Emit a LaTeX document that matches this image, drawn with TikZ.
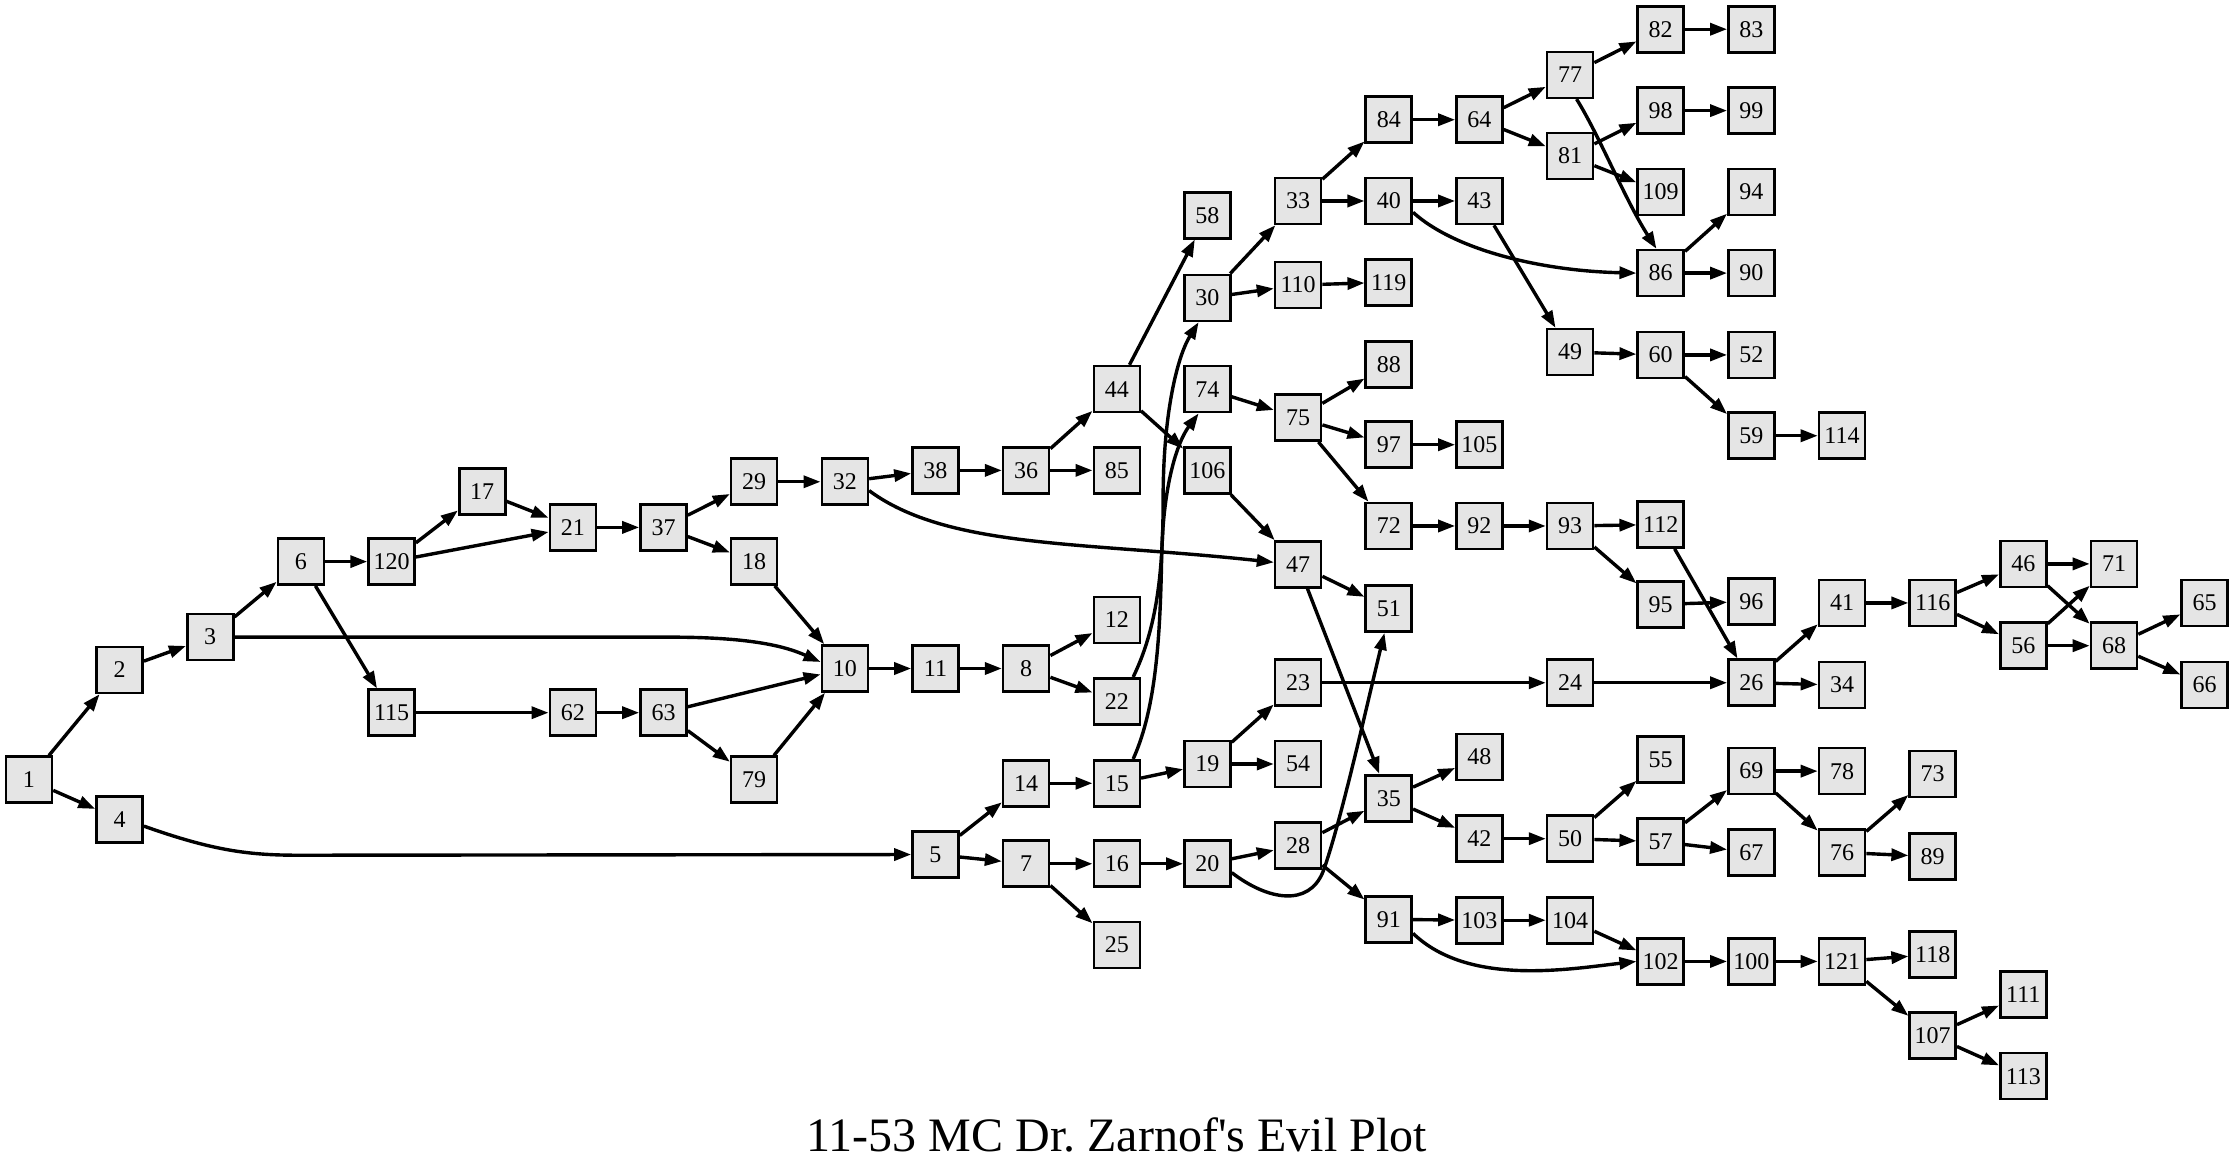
\documentclass[tikz,border=0pt]{standalone}
\usepackage{fontspec}
\setmainfont{Liberation Serif}
\newfontfamily\titlefont{Liberation Serif}[Ligatures=TeXOff]
\usetikzlibrary{arrows.meta}
\definecolor{boxfill}{HTML}{E5E5E5}
\begin{document}
\begin{tikzpicture}[x=1.4254pt,y=-1.4254pt,
  nd/.style={draw=black,fill=boxfill,line width=2.6pt,minimum size=46pt,inner sep=0pt,font=\fontsize{24}{24}\selectfont},
  e/.style={draw=black,line width=3.4pt,-{Triangle[length=17pt,width=12pt]}},
  ttl/.style={font=\titlefont\fontsize{48}{48}\selectfont,anchor=base}]
\useasboundingbox[fill=white] (0,0) rectangle (1568,817);
% columns
\def\ka{20.3}\def\kb{83.9}\def\kc{147.5}\def\kd{211.1}\def\ke{274.7}
\def\kf{338.3}\def\kg{401.9}\def\kh{465.5}\def\ki{529.1}\def\kj{592.7}
\def\kk{656.3}\def\kl{719.9}\def\km{783.5}\def\kn{847.1}\def\ko{910.7}
\def\kp{974.3}\def\kq{1037.9}\def\kr{1101.5}\def\ks{1165.1}\def\kt{1228.7}
\def\ku{1292.3}\def\kv{1355.9}\def\kw{1419.5}\def\kx{1483.1}\def\ky{1546.7}
% nodes
\node[nd] (n1) at (\ka,547) {1};
\node[nd] (n2) at (\kb,470) {2};
\node[nd] (n4) at (\kb,575) {4};
\node[nd] (n3) at (\kc,447) {3};
\node[nd] (n6) at (\kd,394) {6};
\node[nd] (n120) at (\ke,394) {120};
\node[nd] (n115) at (\ke,500) {115};
\node[nd] (n17) at (\kf,345) {17};
\node[nd] (n21) at (\kg,370) {21};
\node[nd] (n62) at (\kg,500) {62};
\node[nd] (n37) at (\kh,370) {37};
\node[nd] (n63) at (\kh,500) {63};
\node[nd] (n29) at (\ki,338) {29};
\node[nd] (n18) at (\ki,394) {18};
\node[nd] (n79) at (\ki,547) {79};
\node[nd] (n32) at (\kj,338) {32};
\node[nd] (n10) at (\kj,469) {10};
\node[nd] (n38) at (\kk,330) {38};
\node[nd] (n11) at (\kk,469) {11};
\node[nd] (n5) at (\kk,599.5) {5};
\node[nd] (n36) at (\kl,330) {36};
\node[nd] (n8) at (\kl,469) {8};
\node[nd] (n14) at (\kl,549.5) {14};
\node[nd] (n7) at (\kl,606) {7};
\node[nd] (n44) at (\km,273) {44};
\node[nd] (n85) at (\km,330) {85};
\node[nd] (n12) at (\km,435) {12};
\node[nd] (n22) at (\km,492) {22};
\node[nd] (n15) at (\km,549.5) {15};
\node[nd] (n16) at (\km,606) {16};
\node[nd] (n25) at (\km,663) {25};
\node[nd] (n58) at (\kn,151) {58};
\node[nd] (n30) at (\kn,209) {30};
\node[nd] (n74) at (\kn,273) {74};
\node[nd] (n106) at (\kn,330) {106};
\node[nd] (n19) at (\kn,536) {19};
\node[nd] (n20) at (\kn,606) {20};
\node[nd] (n33) at (\ko,141) {33};
\node[nd] (n110) at (\ko,200) {110};
\node[nd] (n75) at (\ko,293) {75};
\node[nd] (n47) at (\ko,396) {47};
\node[nd] (n23) at (\ko,479) {23};
\node[nd] (n54) at (\ko,536) {54};
\node[nd] (n28) at (\ko,593) {28};
\node[nd] (n84) at (\kp,84) {84};
\node[nd] (n40) at (\kp,141) {40};
\node[nd] (n119) at (\kp,198) {119};
\node[nd] (n88) at (\kp,255.6) {88};
\node[nd] (n97) at (\kp,312) {97};
\node[nd] (n72) at (\kp,369) {72};
\node[nd] (n51) at (\kp,427) {51};
\node[nd] (n35) at (\kp,560) {35};
\node[nd] (n91) at (\kp,645) {91};
\node[nd] (n64) at (\kq,84) {64};
\node[nd] (n43) at (\kq,141) {43};
\node[nd] (n105) at (\kq,312) {105};
\node[nd] (n92) at (\kq,369) {92};
\node[nd] (n48) at (\kq,531) {48};
\node[nd] (n42) at (\kq,588.4) {42};
\node[nd] (n103) at (\kq,645.6) {103};
\node[nd] (n77) at (\kr,52.5) {77};
\node[nd] (n81) at (\kr,109.5) {81};
\node[nd] (n49) at (\kr,247) {49};
\node[nd] (n93) at (\kr,369) {93};
\node[nd] (n24) at (\kr,479) {24};
\node[nd] (n50) at (\kr,588.4) {50};
\node[nd] (n104) at (\kr,645.6) {104};
\node[nd] (n82) at (\ks,20.5) {82};
\node[nd] (n98) at (\ks,77.6) {98};
\node[nd] (n109) at (\ks,134.7) {109};
\node[nd] (n86) at (\ks,191.6) {86};
\node[nd] (n60) at (\ks,249) {60};
\node[nd] (n112) at (\ks,368) {112};
\node[nd] (n95) at (\ks,424) {95};
\node[nd] (n55) at (\ks,533) {55};
\node[nd] (n57) at (\ks,590.5) {57};
\node[nd] (n102) at (\ks,674.5) {102};
\node[nd] (n83) at (\kt,20.5) {83};
\node[nd] (n99) at (\kt,77.6) {99};
\node[nd] (n94) at (\kt,134.7) {94};
\node[nd] (n90) at (\kt,191.6) {90};
\node[nd] (n52) at (\kt,249) {52};
\node[nd] (n59) at (\kt,305.7) {59};
\node[nd] (n96) at (\kt,422) {96};
\node[nd] (n26) at (\kt,479) {26};
\node[nd] (n69) at (\kt,541) {69};
\node[nd] (n67) at (\kt,598) {67};
\node[nd] (n100) at (\kt,674.5) {100};
\node[nd] (n114) at (\ku,305.7) {114};
\node[nd] (n41) at (\ku,423) {41};
\node[nd] (n34) at (\ku,480.6) {34};
\node[nd] (n78) at (\ku,541) {78};
\node[nd] (n76) at (\ku,598) {76};
\node[nd] (n121) at (\ku,674.5) {121};
\node[nd] (n116) at (\kv,423) {116};
\node[nd] (n73) at (\kv,543) {73};
\node[nd] (n89) at (\kv,601) {89};
\node[nd] (n118) at (\kv,669.6) {118};
\node[nd] (n107) at (\kv,726.6) {107};
\node[nd] (n46) at (\kw,395.6) {46};
\node[nd] (n56) at (\kw,453) {56};
\node[nd] (n111) at (\kw,697.7) {111};
\node[nd] (n113) at (\kw,755) {113};
\node[nd] (n71) at (\kx,395.6) {71};
\node[nd] (n68) at (\kx,453) {68};
\node[nd] (n65) at (\ky,423) {65};
\node[nd] (n66) at (\ky,480.6) {66};
% title
\node[ttl] (title) at (783.5,808) {11-53 MC Dr.\ Zarnof's Evil Plot};
% straight edges
\foreach \a/\b in {1/2,1/4,2/3,3/6,6/120,6/115,120/17,120/21,17/21,21/37,37/29,37/18,
  29/32,18/10,32/38,38/36,36/44,36/85,44/58,44/106,115/62,62/63,63/10,63/79,79/10,
  10/11,11/8,8/12,8/22,30/33,30/110,110/119,33/84,33/40,84/64,64/77,64/81,77/82,
  82/83,81/98,81/109,98/99,40/43,43/49,86/94,86/90,49/60,60/52,60/59,59/114,
  5/14,5/7,14/15,15/19,74/75,75/88,75/97,75/72,97/105,72/92,92/93,93/112,93/95,
  95/96,112/26,106/47,47/51,47/35,19/23,19/54,23/24,24/26,26/41,26/34,41/116,
  116/46,116/56,46/71,46/68,56/71,56/68,68/65,68/66,7/16,7/25,16/20,20/28,28/35,
  28/91,35/48,35/42,42/50,50/55,50/57,57/69,57/67,69/78,69/76,76/73,76/89,91/103,
  103/104,104/102,102/100,100/121,121/118,121/107,107/111,107/113}
  {\draw[e] (n\a) -- (n\b);}
% curved edges
\draw[e] (n3.east) -- (470,447) .. controls (525,447) and (550,453) .. (n10.165);
\draw[e] (n4.-15) .. controls (150,597) and (175,600) .. (210,600) -- (n5.west);
\draw[e] (n32.-20) .. controls (665,385) and (760,380) .. (n47.175);
\draw[e] (n22.56) .. controls (812,440) and (816,400) .. (816,350) .. controls (816,290) and (826,250) .. (n30.-110);
\draw[e] (n15.56) .. controls (812,495) and (814,440) .. (815,390) .. controls (816,340) and (826,310) .. (n74.-110);
\draw[e] (n40.-25) .. controls (1020,175) and (1080,190) .. (n86.west);
\draw[e] (n77.-75) .. controls (1122,95) and (1140,140) .. (n86.100);
\draw[e] (n20.-20) .. controls (890,632) and (918,636) .. (928,612) .. controls (940,580) and (960,490) .. (n51.-100);
\draw[e] (n91.-30) .. controls (1030,692) and (1100,680) .. (n102.west);
\end{tikzpicture}
\end{document}
